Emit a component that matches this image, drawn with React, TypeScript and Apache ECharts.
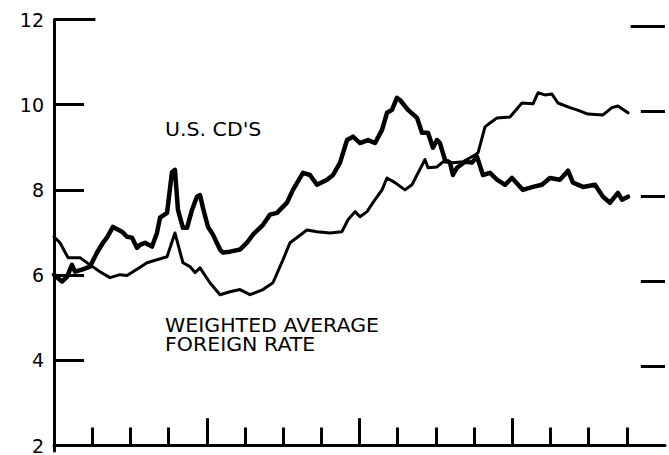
import React, { useEffect, useRef } from "react";
import * as echarts from "echarts";

// months from start of the period (0..48, four years of quarterly ticks)
const cdMonths = [0, 0.63, 1.02, 1.41, 1.65, 2.2, 2.83, 3.38, 3.85, 4.16, 4.63, 5.34, 5.73, 6.13, 6.52, 6.76, 7.15, 7.7, 8.09, 8.33, 8.88, 9.27, 9.5, 9.74, 10.13, 10.45, 10.84, 11.23, 11.47, 11.7, 12.1, 12.49, 13.04, 13.28, 13.83, 14.61, 15.16, 15.63, 16.42, 16.97, 17.52, 18.3, 18.77, 19.56, 20.11, 20.66, 21.45, 21.92, 22.47, 23.02, 23.49, 24.04, 24.67, 25.22, 25.77, 26.16, 26.55, 26.94, 27.18, 27.81, 28.52, 28.91, 29.38, 29.77, 30.09, 30.32, 30.71, 31.11, 31.34, 31.66, 32.29, 32.84, 33.23, 33.7, 34.25, 34.8, 35.43, 35.98, 36.84, 37.63, 38.33, 38.96, 39.75, 40.38, 40.77, 41.56, 42.5, 43.13, 43.68, 44.3, 44.62, 45.09];
const cdRates = [6.01, 5.85, 5.96, 6.24, 6.08, 6.13, 6.2, 6.53, 6.76, 6.88, 7.13, 7.02, 6.9, 6.88, 6.64, 6.71, 6.76, 6.67, 6.99, 7.35, 7.46, 8.42, 8.47, 7.53, 7.11, 7.11, 7.53, 7.84, 7.88, 7.58, 7.13, 6.95, 6.6, 6.53, 6.55, 6.6, 6.76, 6.95, 7.18, 7.42, 7.46, 7.7, 8.0, 8.4, 8.35, 8.12, 8.24, 8.35, 8.64, 9.17, 9.25, 9.1, 9.17, 9.1, 9.41, 9.81, 9.88, 10.16, 10.11, 9.88, 9.69, 9.34, 9.34, 8.99, 9.17, 9.1, 8.71, 8.64, 8.35, 8.52, 8.66, 8.64, 8.78, 8.35, 8.4, 8.24, 8.12, 8.28, 8.0, 8.07, 8.12, 8.28, 8.24, 8.45, 8.17, 8.07, 8.12, 7.84, 7.7, 7.93, 7.77, 7.84];

const foreignMonths = [0, 0.47, 1.1, 2.04, 2.83, 3.61, 4.4, 5.18, 5.73, 6.21, 7.31, 8.09, 8.88, 9.5, 10.13, 10.68, 11.08, 11.47, 12.25, 13.04, 13.83, 14.61, 15.4, 16.42, 17.2, 17.99, 18.54, 19.17, 19.87, 20.66, 21.68, 22.62, 23.1, 23.65, 24.04, 24.59, 25.22, 25.77, 26.16, 26.79, 27.57, 28.12, 29.14, 29.38, 30.09, 30.56, 31.34, 32.13, 33.07, 33.31, 33.86, 34.25, 34.8, 35.82, 36.76, 37.63, 38.02, 38.57, 39.12, 39.59, 40.53, 41.08, 41.95, 43.13, 43.83, 44.3, 45.09];
const foreignRates = [6.9, 6.76, 6.41, 6.41, 6.24, 6.08, 5.94, 6.01, 5.99, 6.08, 6.29, 6.36, 6.43, 6.99, 6.29, 6.2, 6.06, 6.17, 5.82, 5.54, 5.61, 5.66, 5.54, 5.66, 5.82, 6.36, 6.76, 6.9, 7.06, 7.02, 6.99, 7.02, 7.3, 7.49, 7.37, 7.49, 7.77, 8.0, 8.28, 8.17, 8.0, 8.12, 8.71, 8.52, 8.54, 8.66, 8.64, 8.66, 8.82, 8.87, 9.48, 9.57, 9.69, 9.71, 10.04, 10.02, 10.28, 10.23, 10.25, 10.04, 9.93, 9.88, 9.78, 9.76, 9.93, 9.97, 9.81];

const yTicks = [2, 4, 6, 8, 10, 12];
const yearTicks = [12, 24, 36];
const cdLabel = "U.S. CD'S";
const foreignLabel = ["WEIGHTED AVERAGE", "FOREIGN RATE"];

const FONT = "'DejaVu Sans', 'Liberation Sans', Arial, sans-serif";

export default function App() {
  const ref = useRef<HTMLDivElement>(null);

  useEffect(() => {
    if (!ref.current) return;
    const chart = echarts.init(ref.current, undefined, { renderer: "svg" });
    const black = "#000";
    const cdData = cdMonths.map((m, i) => [m, cdRates[i]]);
    const frData = foreignMonths.map((m, i) => [m, foreignRates[i]]);
    const yMin = yTicks[0];
    const yMax = yTicks[yTicks.length - 1];
    const inner = yTicks.filter((v) => v > yMin && v < yMax);

    // tick marks drawn through the axes' own scales
    const leftTicks = [
      ...inner.map((v) => [{ coord: [0, v] }, { coord: [2.36, v] }]),
      [{ coord: [0, yMax] }, { coord: [3.25, yMax] }],
      ...yearTicks.map((m) => [{ coord: [m, yMin] }, { coord: [m, yMin + 0.64] }]),
    ];
    const rightTicks = [
      ...inner.map((v) => [{ coord: [46.1, v] }, { coord: [48, v] }]),
      [{ coord: [45.3, yMax] }, { coord: [48, yMax] }],
    ];
    const tickStyle = { color: black, width: 3, type: "solid" };

    chart.setOption({
      animation: false,
      backgroundColor: "#fff",
      grid: [
        { left: 54, right: 4, top: 19.5, bottom: 9 },
        { left: 54, right: 4, top: 26, bottom: 4 },
      ],
      xAxis: [
        {
          type: "value",
          gridIndex: 0,
          min: 0,
          max: 48,
          interval: 12,
          axisLine: { show: true, lineStyle: { color: black, width: 3 } },
          axisTick: { show: false, inside: true },
          minorTick: { show: true, splitNumber: 4, length: 18, lineStyle: { color: black, width: 3 } },
          axisLabel: { show: false },
          splitLine: { show: false },
          minorSplitLine: { show: false },
        },
        { type: "value", gridIndex: 1, min: 0, max: 48, show: false },
      ],
      yAxis: [
        {
          type: "value",
          gridIndex: 0,
          min: yMin,
          max: yMax,
          interval: 2,
          axisLine: { show: true, lineStyle: { color: black, width: 3 } },
          axisTick: { show: false },
          axisLabel: { show: true, color: black, fontSize: 19, fontFamily: FONT, margin: 10 },
          splitLine: { show: false },
        },
        {
          type: "value",
          gridIndex: 1,
          position: "right",
          min: yMin,
          max: yMax,
          interval: 2,
          axisLine: { show: true, lineStyle: { color: black, width: 3 } },
          axisTick: { show: false },
          axisLabel: { show: false },
          splitLine: { show: false },
        },
      ],
      series: [
        {
          name: "U.S. CD's",
          type: "line",
          xAxisIndex: 0,
          yAxisIndex: 0,
          data: cdData,
          showSymbol: false,
          lineStyle: { color: black, width: 4.5, join: "round", cap: "round" },
          markLine: {
            silent: true,
            symbol: "none",
            label: { show: false },
            lineStyle: tickStyle,
            data: leftTicks,
          },
        },
        {
          name: "Weighted average foreign rate",
          type: "line",
          xAxisIndex: 0,
          yAxisIndex: 0,
          data: frData,
          showSymbol: false,
          lineStyle: { color: black, width: 3, join: "round", cap: "round" },
        },
        {
          type: "line",
          xAxisIndex: 1,
          yAxisIndex: 1,
          data: [],
          markLine: {
            silent: true,
            symbol: "none",
            label: { show: false },
            lineStyle: tickStyle,
            data: rightTicks,
          },
        },
      ],
      graphic: [
        {
          type: "text",
          x: 165,
          y: 120,
          scaleX: 1.08,
          style: { text: cdLabel, fill: black, font: `19px ${FONT}` },
        },
        {
          type: "text",
          x: 165,
          y: 316,
          scaleX: 1.08,
          style: { text: foreignLabel[0], fill: black, font: `19px ${FONT}` },
        },
        {
          type: "text",
          x: 165,
          y: 335.5,
          scaleX: 1.08,
          style: { text: foreignLabel[1], fill: black, font: `19px ${FONT}` },
        },
      ],
    });
    return () => chart.dispose();
  }, []);

  return (
    <div
      ref={ref}
      style={{ position: "fixed", left: 0, top: 0, width: 669, height: 455, background: "#fff" }}
    />
  );
}
